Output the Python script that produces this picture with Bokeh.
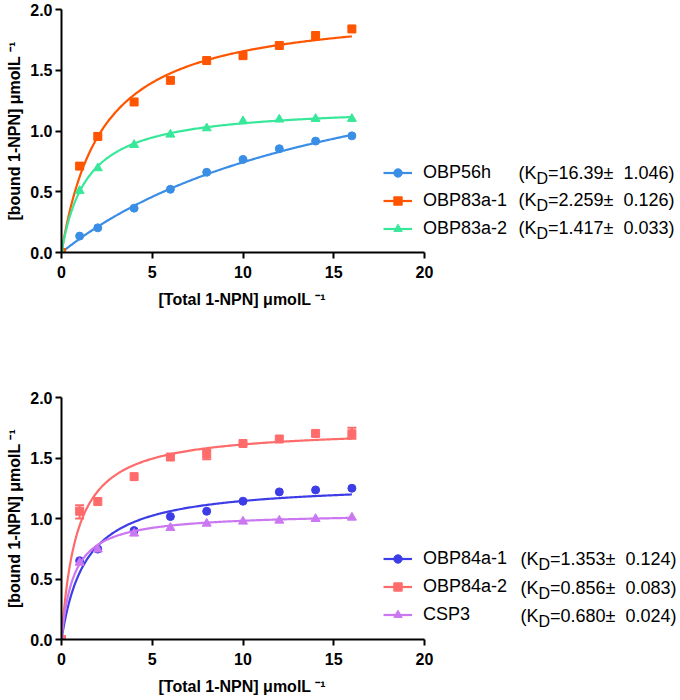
import numpy as np
from bokeh.plotting import figure
from bokeh.models import (Range1d, Legend, LegendItem, Label, Whisker, TeeHead, Title,
                          ColumnDataSource, FixedTicker, NumeralTickFormatter)
from bokeh.layouts import column
from bokeh.embed import file_html
from bokeh.resources import INLINE

# ---------------- data ----------------
conc = [0, 1, 2, 4, 6, 8, 10, 12, 14, 16]

# panel A
names_a = ["OBP56h", "OBP83a-1", "OBP83a-2"]
obp56h = [0, 0.135, 0.203, 0.365, 0.52, 0.66, 0.766, 0.854, 0.917, 0.96]
obp83a1 = [0, 0.711, 0.955, 1.239, 1.417, 1.58, 1.62, 1.704, 1.786, 1.84]
obp83a2 = [0, 0.508, 0.694, 0.886, 0.971, 1.023, 1.081, 1.095, 1.10, 1.10]
kd_a = [16.39, 2.259, 1.417]
kd_err_a = ["1.046", "0.126", "0.033"]
kd_txt_a = ["16.39", "2.259", "1.417"]
bmax_a = [1.96, 2.03, 1.214]

# panel B
names_b = ["OBP84a-1", "OBP84a-2", "CSP3"]
obp84a1 = [0, 0.651, 0.747, 0.90, 1.016, 1.06, 1.143, 1.22, 1.236, 1.25]
obp84a2 = [0, 1.06, 1.14, 1.346, 1.508, 1.533, 1.62, 1.657, 1.703, 1.70]
csp3 = [0, 0.635, 0.745, 0.876, 0.923, 0.958, 0.975, 0.983, 0.997, 1.008]
kd_b = [1.353, 0.856, 0.680]
kd_err_b = ["0.124", "0.083", "0.024"]
kd_txt_b = ["1.353", "0.856", "0.680"]
bmax_b = [1.30, 1.75, 1.048]

# error bars (OBP84a-2)
err_x = [1, 8, 16]
err_lo = [1.00, 1.49, 1.66]
err_hi = [1.11, 1.57, 1.75]

x_ticks = [0, 5, 10, 15, 20]
y_ticks = [0, 0.5, 1.0, 1.5, 2.0]

colors_a = ["#3A8EE6", "#FF5500", "#38E89A"]
colors_b = ["#3D3DE8", "#FF6B6B", "#CC77F2"]
markers = ["circle", "square", "triangle"]
msizes = [8, 8, 9]
legend_msizes = [6, 6, 7]

FONT = "Liberation Sans"
XLAB = "[Total 1-NPN] μmolL ⁻¹"
YLAB = "[bound 1-NPN] μmolL ⁻¹"

FIG_W = 680
LEFT = 61
AXIS_PX = 363  # pixels covered by x = 0..20


def make_panel(series, names, kds, kd_txt, kd_err, bmaxs, colors, height,
               border_top, border_bottom, legend_rows, paren_x, errors=None):
    frame_w = FIG_W - LEFT
    x_end = 20 * frame_w / AXIS_PX
    p = figure(width=FIG_W, height=height, output_backend="svg", toolbar_location=None,
               x_range=Range1d(0, x_end), y_range=Range1d(0, 2),
               min_border_left=LEFT, min_border_right=0,
               min_border_top=border_top, min_border_bottom=border_bottom)
    p.outline_line_color = None
    p.xgrid.visible = False
    p.ygrid.visible = False
    p.background_fill_color = "white"
    p.border_fill_color = "white"

    for ax in (p.xaxis[0], p.yaxis[0]):
        ax.axis_line_width = 2
        ax.axis_line_color = "black"
        ax.major_tick_line_width = 2
        ax.major_tick_line_color = "black"
        ax.major_tick_out = 6
        ax.major_tick_in = 0
        ax.minor_tick_line_color = None
        ax.major_label_text_font = FONT
        ax.major_label_text_font_style = "bold"
        ax.major_label_text_font_size = "16px"
        ax.major_label_text_color = "black"
        ax.axis_label_text_font = FONT
        ax.axis_label_text_font_style = "bold"
        ax.axis_label_text_font_size = "16px"
        ax.axis_label_text_color = "black"
    p.xaxis.ticker = FixedTicker(ticks=x_ticks)
    p.yaxis.ticker = FixedTicker(ticks=y_ticks)
    p.xaxis.bounds = (0, 20)
    p.yaxis.formatter = NumeralTickFormatter(format="0.0")
    p.yaxis.axis_label = YLAB
    p.xaxis.major_label_standoff = 7
    p.yaxis.major_label_standoff = 3
    p.yaxis.axis_label_standoff = 4

    # small empty spacer, then the x-axis title centred under the 0..20 part of the axis
    p.add_layout(Title(text=" ", standoff=0, text_font=FONT, text_font_size="5px"), "below")
    p.add_layout(Title(text=XLAB, align="left", offset=97, standoff=0,
                       text_font=FONT, text_font_style="bold", text_font_size="16px",
                       text_color="black"), "below")

    xs_fit = np.linspace(0, 16, 200)
    items = []
    for ys, name, kd, bm, col, mk, ms, lms in zip(series, names, kds, bmaxs, colors,
                                                  markers, msizes, legend_msizes):
        fit = bm * xs_fit / (kd + xs_fit)
        p.line(xs_fit, fit, line_color=col, line_width=2.2)
        p.scatter(conc, ys, marker=mk, size=ms, fill_color=col, line_color=col)
        # legend proxies (a single NaN point, never drawn) with smaller markers
        lr = p.line([np.nan], [np.nan], line_color=col, line_width=2.2)
        sr = p.scatter([np.nan], [np.nan], marker=mk, size=lms, fill_color=col, line_color=col)
        items.append(LegendItem(label=name, renderers=[lr, sr]))

    if errors is not None:
        ex, lo, hi, col = errors
        src = ColumnDataSource(dict(x=ex, lo=lo, hi=hi))
        w = Whisker(source=src, base="x", lower="lo", upper="hi", dimension="height",
                    line_color=col, line_width=2,
                    upper_head=TeeHead(size=9, line_color=col, line_width=2),
                    lower_head=TeeHead(size=9, line_color=col, line_width=2))
        p.add_layout(w)

    frame_h = height - border_top - border_bottom
    top_center = legend_rows[0]
    leg_top = top_center - 10.5
    leg_bottom = leg_top + 3 * 21 + 2 * 7
    leg = Legend(items=items, location=(322, frame_h - leg_bottom),
                 glyph_width=29, glyph_height=21, label_height=21, spacing=7,
                 padding=0, margin=0, label_standoff=11,
                 label_text_font=FONT, label_text_font_size="18px",
                 label_text_color="black", border_line_color=None,
                 background_fill_alpha=0)
    p.add_layout(leg)

    for yc, kt, ke in zip(legend_rows, kd_txt, kd_err):
        ys = frame_h - yc
        common = dict(x_units="screen", y_units="screen", text_font=FONT,
                      text_color="black", text_baseline="middle")
        p.add_layout(Label(x=paren_x, y=ys, text="(K", text_font_size="18px", **common))
        p.add_layout(Label(x=paren_x + 18, y=ys - 6, text="D", text_font_size="16px", **common))
        p.add_layout(Label(x=paren_x + 29.5, y=ys,
                           text="=" + kt + "±\u00a0\u00a0" + ke + ")",
                           text_font_size="18px", **common))
    return p


# legend row centres are measured from each frame's top edge
p1 = make_panel([obp56h, obp83a1, obp83a2], names_a, kd_a, kd_txt_a, kd_err_a, bmax_a,
                colors_a, height=360, border_top=9, border_bottom=108,
                legend_rows=[163, 190, 218], paren_x=457)
p2 = make_panel([obp84a1, obp84a2, csp3], names_b, kd_b, kd_txt_b, kd_err_b, bmax_b,
                colors_b, height=340, border_top=37, border_bottom=61,
                legend_rows=[161, 190, 218], paren_x=459,
                errors=(err_x, err_lo, err_hi, colors_b[1]))

layout = column(p1, p2, spacing=0)
open("out.html", "w").write(file_html(layout, INLINE))
